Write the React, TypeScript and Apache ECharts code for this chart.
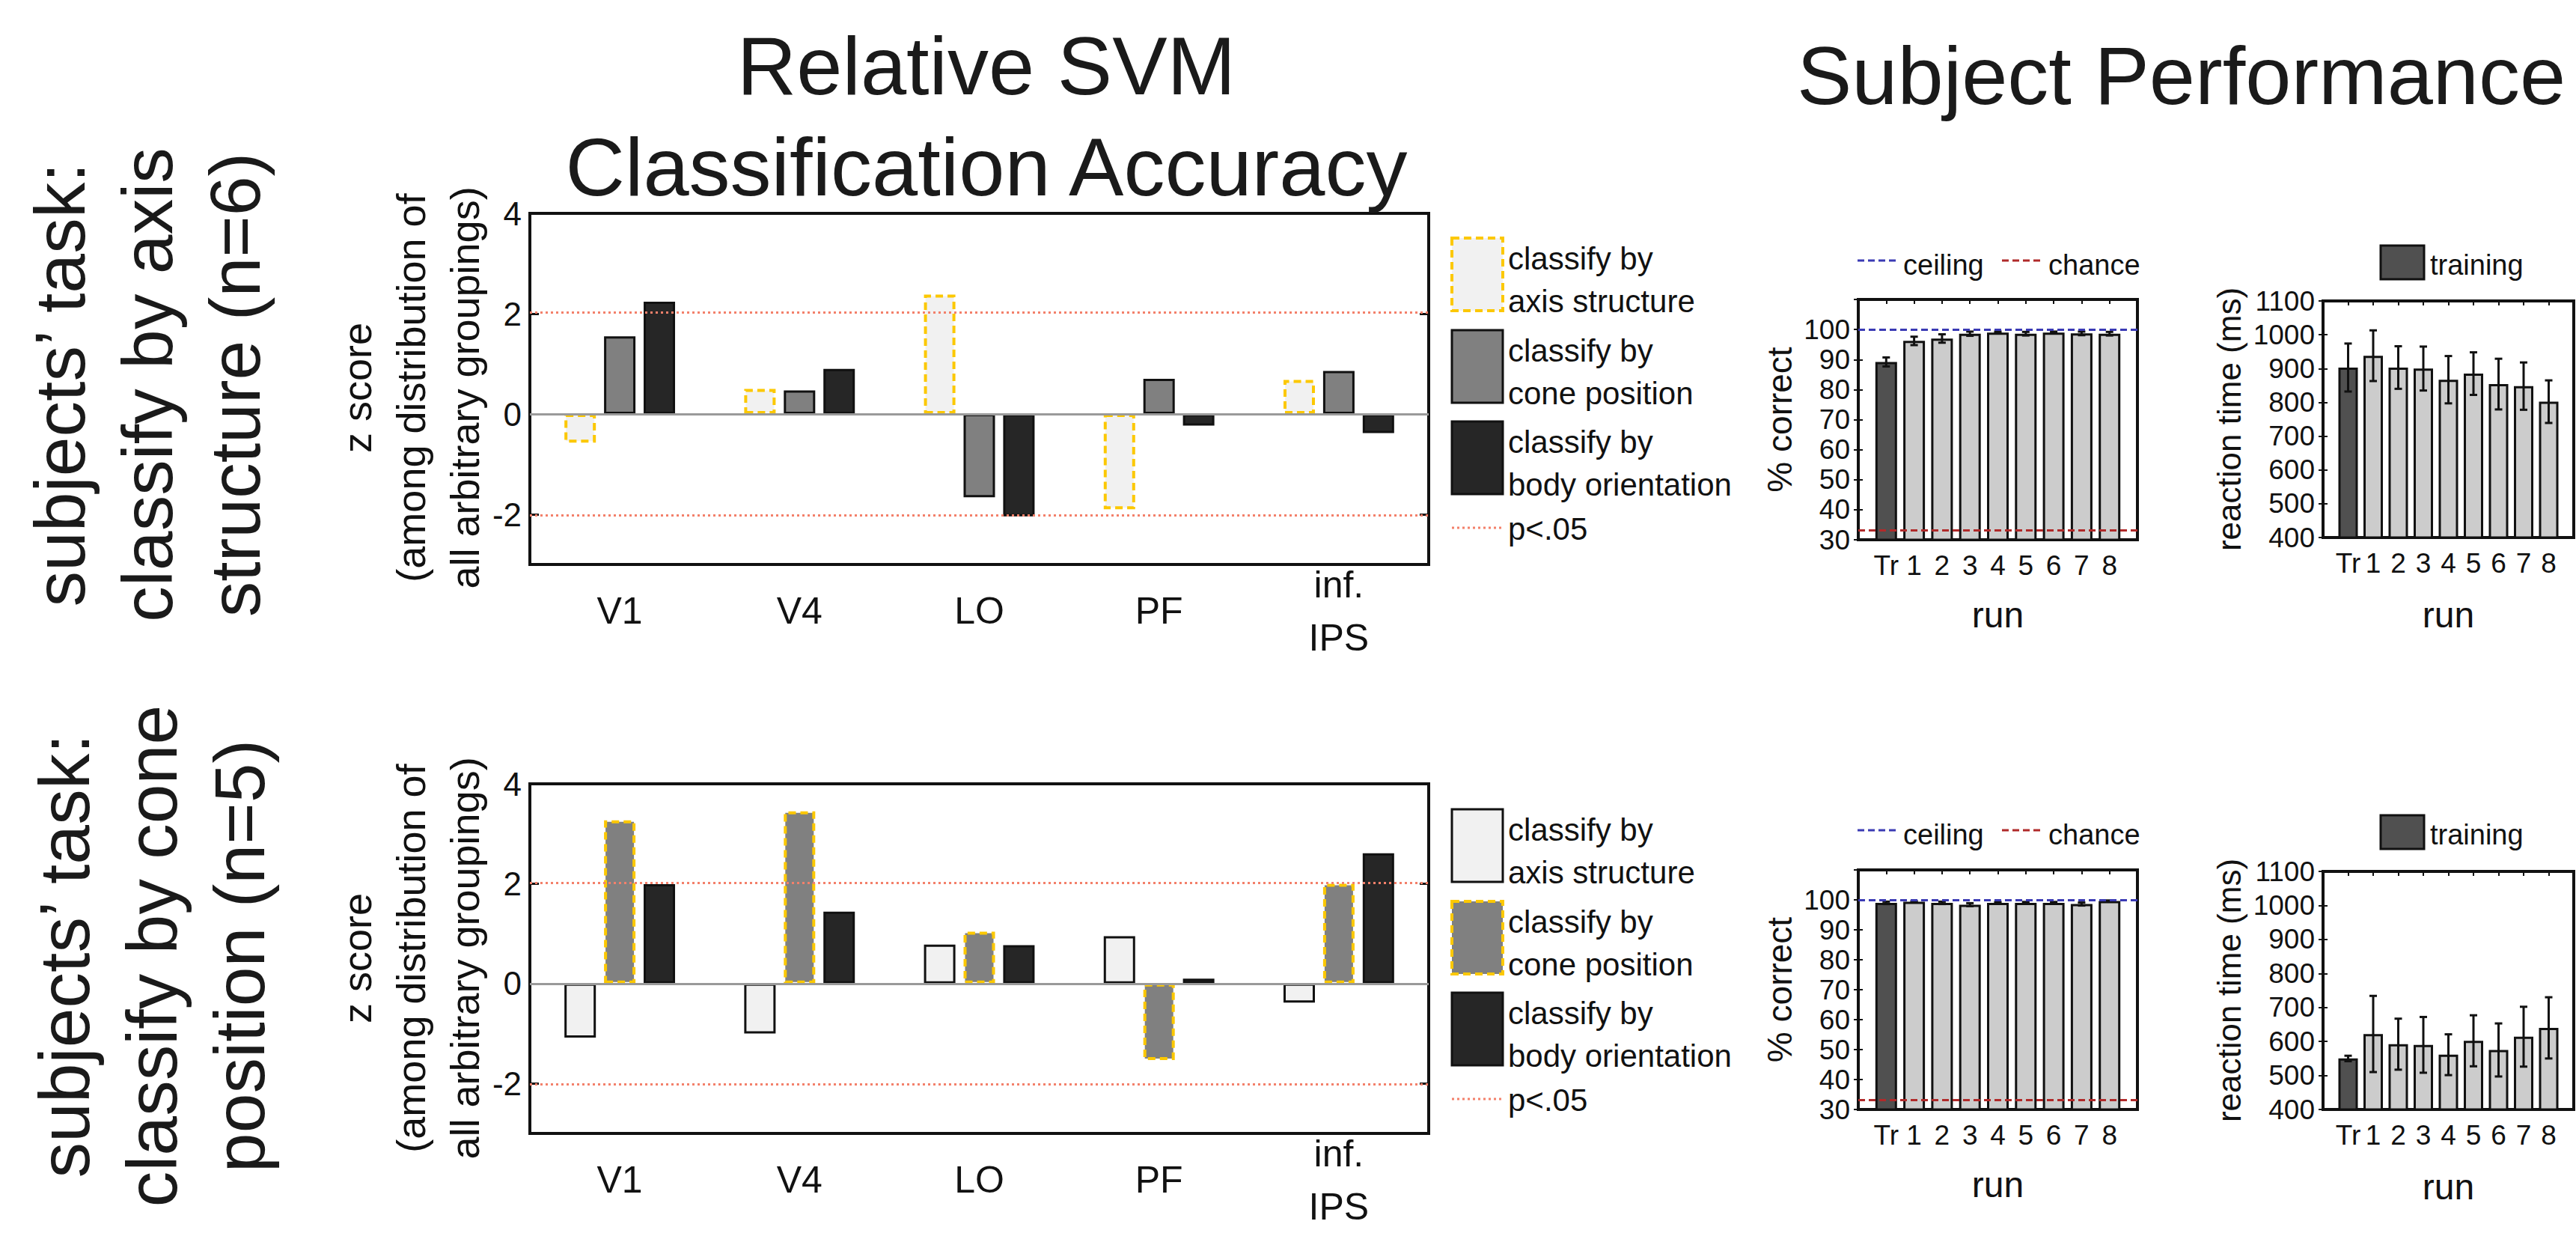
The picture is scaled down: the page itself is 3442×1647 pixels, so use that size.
import React, { useEffect, useRef } from "react";
import * as echarts from "echarts";

// ---------- data ----------
const regions = ["V1", "V4", "LO", "PF", "inf.\nIPS"];
// task: classify by axis structure (n=6)
const axisTask_axis = [-0.57, 0.5, 2.38, -1.9, 0.68];
const axisTask_cone = [1.55, 0.47, -1.66, 0.7, 0.86];
const axisTask_body = [2.24, 0.9, -2.04, -0.23, -0.38];
// task: classify by cone position (n=5)
const coneTask_axis = [-1.08, -1.0, 0.78, 0.95, -0.38];
const coneTask_cone = [3.27, 3.45, 1.04, -1.53, 2.0];
const coneTask_body = [1.99, 1.44, 0.77, 0.1, 2.61];
const zTicks = [-2, 0, 2, 4];
const pCrit = 2.02;

const runLabels = ["Tr", "1", "2", "3", "4", "5", "6", "7", "8"];
const pcTop = [89.2, 96.2, 97.0, 98.6, 99.0, 98.6, 99.0, 98.7, 98.6];
const pcTopErr = [1.5, 1.4, 1.4, 0.7, 0.3, 0.6, 0.3, 0.6, 0.6];
const pcBot = [99.0, 99.4, 99.0, 98.4, 99.0, 99.0, 99.0, 98.6, 99.6];
const pcBotErr = [0.4, 0.2, 0.4, 0.5, 0.3, 0.3, 0.3, 0.5, 0.2];
const rtTop = [903, 938, 903, 900, 867, 885, 854, 848, 802];
const rtTopErr = [71, 75, 63, 65, 70, 63, 75, 70, 63];
const rtBot = [550, 622, 592, 590, 561, 602, 575, 614, 640];
const rtBotErr = [8, 112, 75, 82, 60, 75, 78, 88, 90];
const ceiling = 100;
const chance = 33.3;

// ---------- styles ----------
const FONT = "'Liberation Sans', Arial, Helvetica, sans-serif";
const INK = "#111111";
const C_AXIS = "#f1f1f1";
const C_CONE = "#808080";
const C_BODY = "#262626";
const C_TRAIN = "#505050";
const C_RUN = "#cccccc";
const YELLOW = "#fcc800";
const PLINE = "#f3806a";
const BLUE = "#3a3ab4";
const DRED = "#b02a2a";

function txt(text: string, x: number, y: number, size: number, opts: any = {}) {
  const align = opts.align || "left";
  const v = opts.v || "middle";
  return {
    type: "text",
    x,
    y,
    rotation: opts.rotation || 0,
    silent: true,
    style: {
      text,
      fill: opts.fill || INK,
      fontSize: size,
      fontFamily: FONT,
      align,
      textAlign: align,
      verticalAlign: v,
      textVerticalAlign: v,
      lineHeight: opts.lineHeight,
    },
  };
}

function svmLegend(dy: number, hi: number) {
  const tops = [318, 441, 563];
  const fills = [C_AXIS, C_CONE, C_BODY];
  const labels = ["classify by\naxis structure", "classify by\ncone position", "classify by\nbody orientation"];
  const els: any[] = [];
  tops.forEach((t, i) => {
    const highlighted = i === hi;
    els.push({
      type: "rect",
      silent: true,
      shape: { x: 1940, y: t + dy, width: 68, height: 97 },
      style: highlighted
        ? { fill: fills[i], stroke: YELLOW, lineWidth: 4, lineDash: [10, 6] }
        : { fill: fills[i], stroke: INK, lineWidth: 3 },
    });
    els.push(txt(labels[i], 2015, t + dy + 56, 42, { lineHeight: 57 }));
  });
  els.push({
    type: "line",
    silent: true,
    shape: { x1: 1940, y1: 705 + dy, x2: 2008, y2: 705 + dy },
    style: { stroke: PLINE, lineWidth: 3, lineDash: [3, 4] },
  });
  els.push(txt("p<.05", 2015, 706 + dy, 42));
  return els;
}

function perfLegends(dy: number) {
  return [
    {
      type: "line",
      silent: true,
      shape: { x1: 2482, y1: 348 + dy, x2: 2537, y2: 348 + dy },
      style: { stroke: BLUE, lineWidth: 3, lineDash: [9, 5] },
    },
    txt("ceiling", 2543, 354 + dy, 38),
    {
      type: "line",
      silent: true,
      shape: { x1: 2675, y1: 348 + dy, x2: 2730, y2: 348 + dy },
      style: { stroke: DRED, lineWidth: 3, lineDash: [9, 5] },
    },
    txt("chance", 2737, 354 + dy, 38),
    {
      type: "rect",
      silent: true,
      shape: { x: 3181, y: 328 + dy, width: 58, height: 45 },
      style: { fill: C_TRAIN, stroke: INK, lineWidth: 3 },
    },
    txt("training", 3247, 354 + dy, 38),
  ];
}

const errRender = (_params: any, api: any) => {
  const x = api.value(0);
  const y = api.value(1);
  const e = api.value(2);
  const hi = api.coord([x, y + e]);
  const lo = api.coord([x, y - e]);
  const c = 5;
  const style = { stroke: INK, lineWidth: 3 };
  return {
    type: "group",
    children: [
      { type: "line", shape: { x1: hi[0], y1: hi[1], x2: lo[0], y2: lo[1] }, style },
      { type: "line", shape: { x1: hi[0] - c, y1: hi[1], x2: hi[0] + c, y2: hi[1] }, style },
      { type: "line", shape: { x1: lo[0] - c, y1: lo[1], x2: lo[0] + c, y2: lo[1] }, style },
    ],
  };
};

function buildOption() {
  const gridDefs = [
    { left: 708, top: 285, width: 1201, height: 469 },
    { left: 708, top: 1047, width: 1201, height: 468 },
    { left: 2483, top: 400, width: 373, height: 321 },
    { left: 2483, top: 1162, width: 373, height: 320 },
    { left: 3104, top: 402, width: 350, height: 316 },
    { left: 3104, top: 1164, width: 350, height: 318 },
  ];
  const grid = gridDefs.map((g) => ({
    ...g,
    show: true,
    borderColor: INK,
    borderWidth: 4,
    backgroundColor: "transparent",
    containLabel: false,
  }));

  const labelStyle = { color: INK, fontFamily: FONT };
  const xAxis: any[] = [];
  const yAxis: any[] = [];

  // SVM x axes (index 0,1)
  [0, 1].forEach((gi) => {
    xAxis.push({
      gridIndex: gi,
      type: "category",
      data: regions,
      axisLine: { show: false },
      axisTick: { show: false },
      splitLine: { show: false },
      axisLabel: { ...labelStyle, fontSize: 50, margin: 62, verticalAlign: "middle", lineHeight: 71 },
    });
  });
  // run x axes: bottom + top for grids 2..5 (bottom indices 2,4,6,8)
  [2, 3, 4, 5].forEach((gi) => {
    const isRT = gi >= 4;
    xAxis.push({
      gridIndex: gi,
      type: "value",
      position: "bottom",
      min: 0,
      max: 10,
      interval: 1,
      axisLine: { show: false },
      axisTick: { show: true, inside: true, length: 6, lineStyle: { color: INK, width: 2 } },
      splitLine: { show: false },
      axisLabel: {
        ...labelStyle,
        fontSize: 37,
        margin: 34,
        verticalAlign: "middle",
        formatter: (v: number) => runLabels[v - 1] ?? "",
      },
      name: "run",
      nameLocation: "middle",
      nameGap: isRT ? 79 : 76,
      nameTextStyle: { ...labelStyle, fontSize: 48 },
    });
    xAxis.push({
      gridIndex: gi,
      type: "value",
      position: "top",
      min: 0,
      max: 10,
      interval: 1,
      axisLine: { show: false },
      axisTick: { show: true, inside: true, length: 6, lineStyle: { color: INK, width: 2 } },
      splitLine: { show: false },
      axisLabel: { show: false },
    });
  });

  // SVM y axes (left 0,2 ; right 1,3)
  [0, 1].forEach((gi) => {
    ["left", "right"].forEach((pos) => {
      yAxis.push({
        gridIndex: gi,
        type: "value",
        position: pos,
        min: -3,
        max: 4,
        axisLine: { show: false },
        splitLine: { show: false },
        axisTick: {
          show: true,
          inside: true,
          length: 12,
          customValues: zTicks,
          lineStyle: { color: INK, width: 3 },
        },
        axisLabel:
          pos === "left"
            ? { ...labelStyle, fontSize: 44, margin: 11, customValues: zTicks }
            : { show: false },
      });
    });
  });
  // % correct y axes (left 4,6)
  [2, 3].forEach((gi) => {
    ["left", "right"].forEach((pos) => {
      yAxis.push({
        gridIndex: gi,
        type: "value",
        position: pos,
        min: 30,
        max: 110,
        interval: 10,
        axisLine: { show: false },
        splitLine: { show: false },
        axisTick: { show: true, inside: true, length: 6, lineStyle: { color: INK, width: 2 } },
        axisLabel:
          pos === "left"
            ? {
                ...labelStyle,
                fontSize: 37,
                margin: 11,
                formatter: (v: number) => (v === 110 ? "" : String(v)),
              }
            : { show: false },
        ...(pos === "left"
          ? {
              name: "% correct",
              nameLocation: "middle",
              nameGap: 82,
              nameTextStyle: { ...labelStyle, fontSize: 46 },
            }
          : {}),
      });
    });
  });
  // RT y axes (left 8,10)
  [4, 5].forEach((gi) => {
    ["left", "right"].forEach((pos) => {
      yAxis.push({
        gridIndex: gi,
        type: "value",
        position: pos,
        min: 400,
        max: 1100,
        interval: 100,
        axisLine: { show: false },
        splitLine: { show: false },
        axisTick: { show: true, inside: true, length: 6, lineStyle: { color: INK, width: 2 } },
        axisLabel:
          pos === "left"
            ? { ...labelStyle, fontSize: 37, margin: 11, formatter: (v: number) => String(v) }
            : { show: false },
        ...(pos === "left"
          ? {
              name: "reaction time (ms)",
              nameLocation: "middle",
              nameGap: 104,
              nameTextStyle: { ...labelStyle, fontSize: 44 },
            }
          : {}),
      });
    });
  });

  const series: any[] = [];
  const plainBorder = { borderColor: INK, borderWidth: 3 };
  const yellowBorder = { borderColor: YELLOW, borderWidth: 4, borderType: [10, 6] };
  const svmMarks = {
    silent: true,
    symbol: ["none", "none"],
    label: { show: false },
    emphasis: { disabled: true },
    data: [
      { yAxis: 0, lineStyle: { color: "#9a9a9a", width: 3, type: "solid" } },
      { yAxis: pCrit, lineStyle: { color: PLINE, width: 3, type: [3, 4] } },
      { yAxis: -pCrit, lineStyle: { color: PLINE, width: 3, type: [3, 4] } },
    ],
  };
  const svmSets = [
    { x: 0, y: 0, data: [axisTask_axis, axisTask_cone, axisTask_body], hi: 0 },
    { x: 1, y: 2, data: [coneTask_axis, coneTask_cone, coneTask_body], hi: 1 },
  ];
  const names = ["classify by axis structure", "classify by cone position", "classify by body orientation"];
  const fills = [C_AXIS, C_CONE, C_BODY];
  svmSets.forEach((s) => {
    s.data.forEach((d, k) => {
      const border = k === s.hi ? yellowBorder : plainBorder;
      series.push({
        type: "bar",
        name: names[k],
        xAxisIndex: s.x,
        yAxisIndex: s.y,
        data: d,
        barWidth: 42,
        barGap: "26%",
        itemStyle: { color: fills[k], ...border },
        emphasis: { disabled: true },
        ...(k === 2 ? { markLine: svmMarks } : {}),
      });
    });
  });

  const perfSets = [
    { x: 2, y: 4, vals: pcTop, err: pcTopErr, pc: true },
    { x: 4, y: 6, vals: pcBot, err: pcBotErr, pc: true },
    { x: 6, y: 8, vals: rtTop, err: rtTopErr, pc: false },
    { x: 8, y: 10, vals: rtBot, err: rtBotErr, pc: false },
  ];
  perfSets.forEach((p) => {
    series.push({
      type: "bar",
      xAxisIndex: p.x,
      yAxisIndex: p.y,
      data: p.vals.map((v, i) => [i + 1, v]),
      barWidth: p.pc ? 29 : 26,
      itemStyle: {
        color: (prm: any) => (prm.dataIndex === 0 ? C_TRAIN : C_RUN),
        borderColor: INK,
        borderWidth: 3,
      },
      emphasis: { disabled: true },
      z: 2,
    });
    series.push({
      type: "custom",
      xAxisIndex: p.x,
      yAxisIndex: p.y,
      renderItem: errRender,
      data: p.vals.map((v, i) => [i + 1, v, p.err[i]]),
      encode: { x: 0, y: 1 },
      z: 4,
      silent: true,
      ...(p.pc
        ? {
            markLine: {
              silent: true,
              symbol: ["none", "none"],
              label: { show: false },
              data: [
                { yAxis: ceiling, lineStyle: { color: BLUE, width: 3, type: [9, 5] } },
                { yAxis: chance, lineStyle: { color: DRED, width: 3, type: [9, 5] } },
              ],
            },
          }
        : {}),
    });
  });

  const graphics: any[] = [
    txt("Relative SVM", 1318, 87, 110, { align: "center", fill: "#1a1a1a" }),
    txt("Classification Accuracy", 1318, 222, 110, { align: "center", fill: "#1a1a1a" }),
    txt("Subject Performance", 2401, 100, 110, { fill: "#1a1a1a" }),
    txt("subjects\u2019 task:\nclassify by axis\nstructure (n=6)", 197, 514, 95, {
      align: "center",
      rotation: Math.PI / 2,
      lineHeight: 117,
      fill: "#1a1a1a",
    }),
    txt("subjects\u2019 task:\nclassify by cone\nposition (n=5)", 203, 1277, 95, {
      align: "center",
      rotation: Math.PI / 2,
      lineHeight: 117,
      fill: "#1a1a1a",
    }),
    txt("z score\n(among distribution of\nall arbitrary groupings)", 549, 518, 54, {
      align: "center",
      rotation: Math.PI / 2,
      lineHeight: 72,
    }),
    txt("z score\n(among distribution of\nall arbitrary groupings)", 549, 1280, 54, {
      align: "center",
      rotation: Math.PI / 2,
      lineHeight: 72,
    }),
    ...svmLegend(0, 0),
    ...svmLegend(763, 1),
    ...perfLegends(0),
    ...perfLegends(761),
  ];

  return {
    animation: false,
    backgroundColor: "#ffffff",
    textStyle: { fontFamily: FONT },
    grid,
    xAxis,
    yAxis,
    series,
    graphic: { elements: graphics },
  };
}

export default function App() {
  const ref = useRef<HTMLDivElement>(null);
  useEffect(() => {
    document.body.style.margin = "0";
    document.body.style.overflow = "hidden";
    if (!ref.current) return;
    const chart = echarts.init(ref.current, undefined, { renderer: "svg" });
    chart.setOption(buildOption() as any);
    return () => chart.dispose();
  }, []);
  return <div ref={ref} style={{ width: 3442, height: 1647 }} />;
}
